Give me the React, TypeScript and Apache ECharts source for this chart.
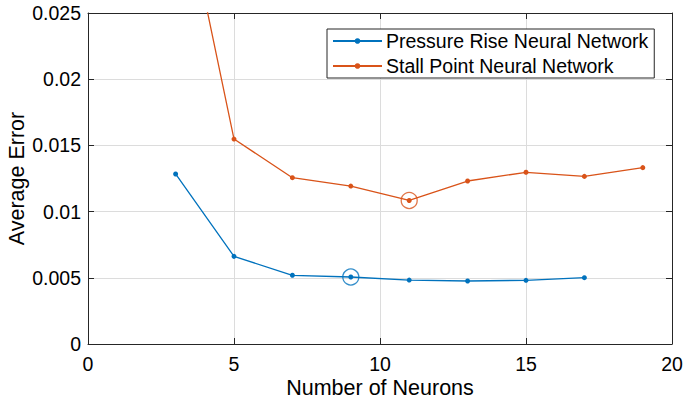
import React, { useEffect, useRef } from "react";
import * as echarts from "echarts";

const neurons = [3, 5, 7, 9, 11, 13, 15, 17, 19];
const pressureErr = [0.01284, 0.00662, 0.00519, 0.00506, 0.00483, 0.00476, 0.00481, 0.00501];
const stallErr = [0.0366, 0.01548, 0.01256, 0.01193, 0.01084, 0.01231, 0.01297, 0.01266, 0.01332];
const pressureBestIdx = 3;
const stallBestIdx = 4;
const seriesNames = ["Pressure Rise Neural Network", "Stall Point Neural Network"];

const BLUE = "#0072BD";
const ORANGE = "#D95319";
const AX = "#262626";
const FONT = "Liberation Sans, Arial, sans-serif";

export default function App() {
  const ref = useRef<HTMLDivElement>(null);
  useEffect(() => {
    if (!ref.current) return;
    const chart = echarts.init(ref.current, null, { renderer: "svg" });
    const pData = pressureErr.map((v, i) => [neurons[i], v]);
    const sData = stallErr.map((v, i) => [neurons[i], v]);
    const axisLine = { show: true, onZero: false, lineStyle: { color: AX, width: 1 } };
    chart.setOption({
      animation: false,
      textStyle: { fontFamily: FONT },
      grid: { left: 88, right: 12, top: 13, bottom: 58, containLabel: false, outerBoundsMode: "none" },
      legend: {
        data: seriesNames,
        orient: "vertical",
        left: 327,
        top: 29,
        padding: [2, 6, 2, 5],
        itemGap: 5,
        itemWidth: 49,
        itemHeight: 7,
        borderColor: AX,
        borderWidth: 1,
        backgroundColor: "#fff",
        textStyle: { fontSize: 19.5, color: "#000", fontFamily: FONT, padding: [0, 0, 0, -1] },
      },
      xAxis: [
        {
          type: "value",
          min: 0,
          max: 20,
          interval: 5,
          name: "Number of Neurons",
          nameLocation: "middle",
          nameGap: 33,
          nameMoveOverlap: false,
          nameTextStyle: { fontSize: 21.5, color: "#000", fontFamily: FONT },
          axisLine,
          axisTick: { show: true, inside: true, length: 6, lineStyle: { color: AX } },
          axisLabel: { fontSize: 19.5, color: "#000", margin: 10, fontFamily: FONT },
          splitLine: { show: true, lineStyle: { color: "#dcdcdc", width: 1 } },
        },
        {
          type: "value",
          position: "top",
          min: 0,
          max: 20,
          interval: 5,
          axisLine,
          axisTick: { show: true, inside: true, length: 6, lineStyle: { color: AX } },
          axisLabel: { show: false },
          splitLine: { show: false },
        },
      ],
      yAxis: [
        {
          type: "value",
          min: 0,
          max: 0.025,
          interval: 0.005,
          name: "Average Error",
          nameLocation: "middle",
          nameGap: 60,
          nameMoveOverlap: false,
          nameTextStyle: { fontSize: 21.5, color: "#000", fontFamily: FONT },
          axisLine,
          axisTick: { show: true, inside: true, length: 6, lineStyle: { color: AX } },
          axisLabel: { fontSize: 19.5, color: "#000", margin: 7, fontFamily: FONT },
          splitLine: { show: true, lineStyle: { color: "#dcdcdc", width: 1 } },
        },
        {
          type: "value",
          position: "right",
          min: 0,
          max: 0.025,
          interval: 0.005,
          axisLine,
          axisTick: { show: true, inside: true, length: 6, lineStyle: { color: AX } },
          axisLabel: { show: false },
          splitLine: { show: false },
        },
      ],
      series: [
        {
          name: seriesNames[0],
          type: "line",
          data: pData,
          color: BLUE,
          symbol: "circle",
          symbolSize: 5,
          lineStyle: { width: 1.3, color: BLUE },
          itemStyle: { color: BLUE },
          clip: true,
        },
        {
          name: seriesNames[1],
          type: "line",
          data: sData,
          color: ORANGE,
          symbol: "circle",
          symbolSize: 5,
          lineStyle: { width: 1.3, color: ORANGE },
          itemStyle: { color: ORANGE },
          clip: true,
        },
        {
          name: "pBest",
          type: "scatter",
          data: [pData[pressureBestIdx]],
          symbol: "circle",
          symbolSize: 16,
          itemStyle: { color: "rgba(0,0,0,0)", borderColor: BLUE, borderWidth: 1.3 },
          z: 5,
        },
        {
          name: "sBest",
          type: "scatter",
          data: [sData[stallBestIdx]],
          symbol: "circle",
          symbolSize: 16,
          itemStyle: { color: "rgba(0,0,0,0)", borderColor: ORANGE, borderWidth: 1.3 },
          z: 5,
        },
      ],
    });
    return () => chart.dispose();
  }, []);
  return (
    <div
      ref={ref}
      style={{ position: "fixed", left: 0, top: 0, width: 684, height: 402, background: "#fff" }}
    />
  );
}
